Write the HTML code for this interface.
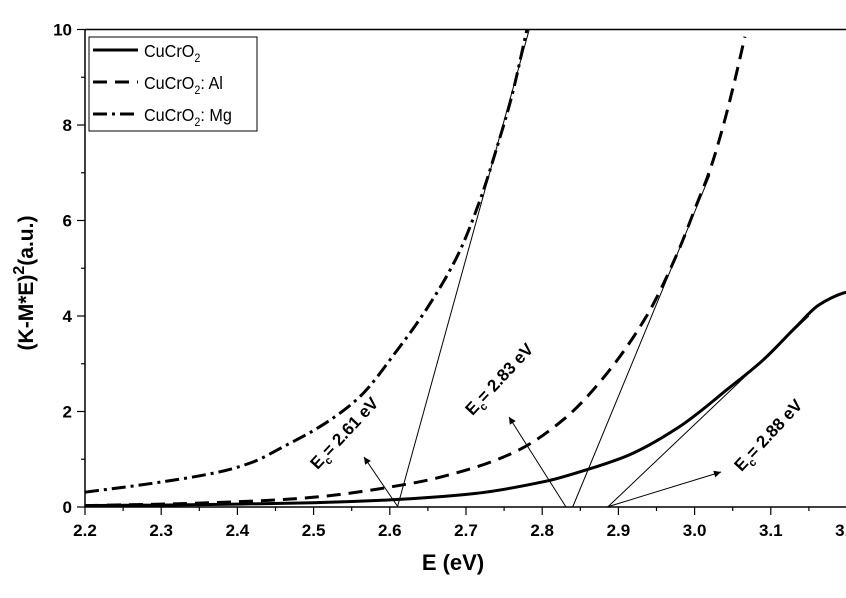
<!DOCTYPE html>
<html><head><meta charset="utf-8"><style>
html,body{margin:0;padding:0;background:#fff;width:846px;height:598px;overflow:hidden}
svg text{font-family:"Liberation Sans",Arial,sans-serif}
</style></head><body>
<svg id="chart" width="846" height="598" viewBox="0 0 846 598" xmlns="http://www.w3.org/2000/svg">
<defs><marker id="ah" viewBox="0 0 10 10" refX="10" refY="5" markerWidth="9" markerHeight="7" orient="auto"><path d="M0,0 L10,5 L0,10 z" fill="#000"/></marker></defs>
<g id="axes"></g>
<g id="series"></g>
<g id="annot"></g>
<text x="453" y="570" font-size="22" font-weight="bold" text-anchor="middle">E (eV)</text>
<text transform="translate(33,283) rotate(-90)" font-size="21" font-weight="bold" text-anchor="middle">(K-M*E)<tspan dy="-9" font-size="16">2</tspan><tspan dy="9">(a.u.)</tspan></text>
<g>
<rect x="89" y="37" width="168" height="94" fill="#fff" stroke="#000" stroke-width="1"/>
<line x1="93" y1="50" x2="138" y2="50" stroke="#000" stroke-width="3"/>
<text x="144" y="57" font-size="18" transform="translate(144,0) scale(0.9,1) translate(-144,0)">CuCrO<tspan dy="5" font-size="12">2</tspan></text>
<line x1="93" y1="82" x2="138" y2="82" stroke="#000" stroke-width="3" stroke-dasharray="14,8"/>
<text x="144" y="89" font-size="18" transform="translate(144,0) scale(0.9,1) translate(-144,0)">CuCrO<tspan dy="5" font-size="12">2</tspan><tspan dy="-5">: Al</tspan></text>
<line x1="93" y1="114" x2="138" y2="114" stroke="#000" stroke-width="3" stroke-dasharray="14,5,3,5"/>
<text x="144" y="121" font-size="18" transform="translate(144,0) scale(0.9,1) translate(-144,0)">CuCrO<tspan dy="5" font-size="12">2</tspan><tspan dy="-5">: Mg</tspan></text>
</g>
</svg>
<script>
const xTicks=[2.2,2.3,2.4,2.5,2.6,2.7,2.8,2.9,3.0,3.1,3.2];
const yTicks=[0,2,4,6,8,10];
const eSolid=[2.2,2.3,2.4,2.5,2.6,2.71,2.805,2.848,2.914,2.98,3.045,3.09,3.133,3.163,3.195,3.2];
const ySolid=[0.03,0.04,0.06,0.09,0.15,0.28,0.54,0.73,1.09,1.68,2.49,3.08,3.77,4.23,4.48,4.5];
const eAl=[2.2,2.3,2.4,2.49,2.63,2.71,2.77,2.83,2.88,2.937,2.977,3.003,3.02,3.037,3.053,3.066];
const yAl=[0.03,0.06,0.11,0.19,0.5,0.82,1.2,1.86,2.7,4.0,5.3,6.35,7.05,7.95,8.95,9.85];
const eMg=[2.2,2.29,2.375,2.42,2.46,2.51,2.56,2.61,2.65,2.69,2.72,2.74,2.76,2.78];
const yMg=[0.31,0.5,0.73,0.94,1.26,1.7,2.3,3.29,4.19,5.3,6.5,7.5,8.6,10];
const tangentE=[[2.61,2.783],[2.84,3.02],[2.886,3.15]];
const tangentY=[[0,10],[0,6.95],[0,4.0]];
const X=v=>85+(v-2.2)*762;
const Y=v=>507-v*47.75;
const NS="http://www.w3.org/2000/svg";
function mk(t,a,p){const e=document.createElementNS(NS,t);for(const k in a)e.setAttribute(k,a[k]);p.appendChild(e);return e;}
const ax=document.getElementById('axes');
let fr=mk('path',{d:`M85,${Y(10)} H846 M85,${Y(10)} V507 H846`,fill:'none',stroke:'#000','stroke-width':1.5},ax);


xTicks.forEach((v,i)=>{
 mk('line',{x1:X(v),y1:507,x2:X(v),y2:515,stroke:'#000','stroke-width':1.2},ax);
 if(i<xTicks.length-1)mk('line',{x1:X(v+0.05),y1:507,x2:X(v+0.05),y2:511,stroke:'#000','stroke-width':1.2},ax);
 const t=mk('text',{x:X(v),y:536,'font-size':17,'font-weight':'bold','text-anchor':'middle'},ax);
 t.textContent=v.toFixed(1);
 
 
});
yTicks.forEach((v,i)=>{
 mk('line',{x1:77,y1:Y(v),x2:85,y2:Y(v),stroke:'#000','stroke-width':1.2},ax);
 if(i<yTicks.length-1)mk('line',{x1:81,y1:Y(v+1),x2:85,y2:Y(v+1),stroke:'#000','stroke-width':1.2},ax);
 const t=mk('text',{x:72,y:Y(v)+6,'font-size':17,'font-weight':'bold','text-anchor':'end'},ax);
 t.textContent=v;
 
 
});
function smooth(xs,ys){const px=xs.map(X),py=ys.map(Y),n=px.length;
 const d=[],m=[];for(let i=0;i<n-1;i++)d.push((py[i+1]-py[i])/(px[i+1]-px[i]));
 m[0]=d[0];m[n-1]=d[n-2];for(let i=1;i<n-1;i++)m[i]=(d[i-1]*d[i]<=0)?0:2/(1/d[i-1]+1/d[i]);
 let s=`M${px[0]},${py[0]}`;
 for(let i=0;i<n-1;i++){const h=(px[i+1]-px[i])/3;s+=` C${px[i]+h},${py[i]+m[i]*h} ${px[i+1]-h},${py[i+1]-m[i+1]*h} ${px[i+1]},${py[i+1]}`;}
 return s;}
const sg=document.getElementById('series');
let s1=mk('path',{d:smooth(eSolid,ySolid),fill:'none',stroke:'#000','stroke-width':3},sg);


let s2=mk('path',{d:smooth(eAl,yAl),fill:'none',stroke:'#000','stroke-width':3,'stroke-dasharray':'14,8'},sg);


let s3=mk('path',{d:smooth(eMg,yMg),fill:'none',stroke:'#000','stroke-width':3,'stroke-dasharray':'14,5,3,5'},sg);


const an=document.getElementById('annot');
tangentE.forEach((e,i)=>{
 const l=mk('line',{x1:X(e[0]),y1:Y(tangentY[i][0]),x2:X(e[1]),y2:Y(tangentY[i][1]),stroke:'#000','stroke-width':1},an);
 
 
});
const arrows=[[398,507,364,457],[566,507,509,417],[607,507,721,472]];
arrows.forEach(a=>{
 const l=mk('line',{x1:a[0],y1:a[1],x2:a[2],y2:a[3],stroke:'#000','stroke-width':1,'marker-end':'url(#ah)'},an);
 
 
});
const labels=[[344,433,'2.61'],[499,379,'2.83'],[768,435,'2.88']];
labels.forEach(l=>{
 const t=mk('text',{transform:`translate(${l[0]},${l[1]}) rotate(-47)`,'font-size':17,'font-weight':'bold','text-anchor':'middle',y:6},an);
 t.innerHTML=`E<tspan dy="5" font-size="11">c</tspan><tspan dy="-5">= ${l[2]} eV</tspan>`;
 
 
});
</script>
</body></html>
